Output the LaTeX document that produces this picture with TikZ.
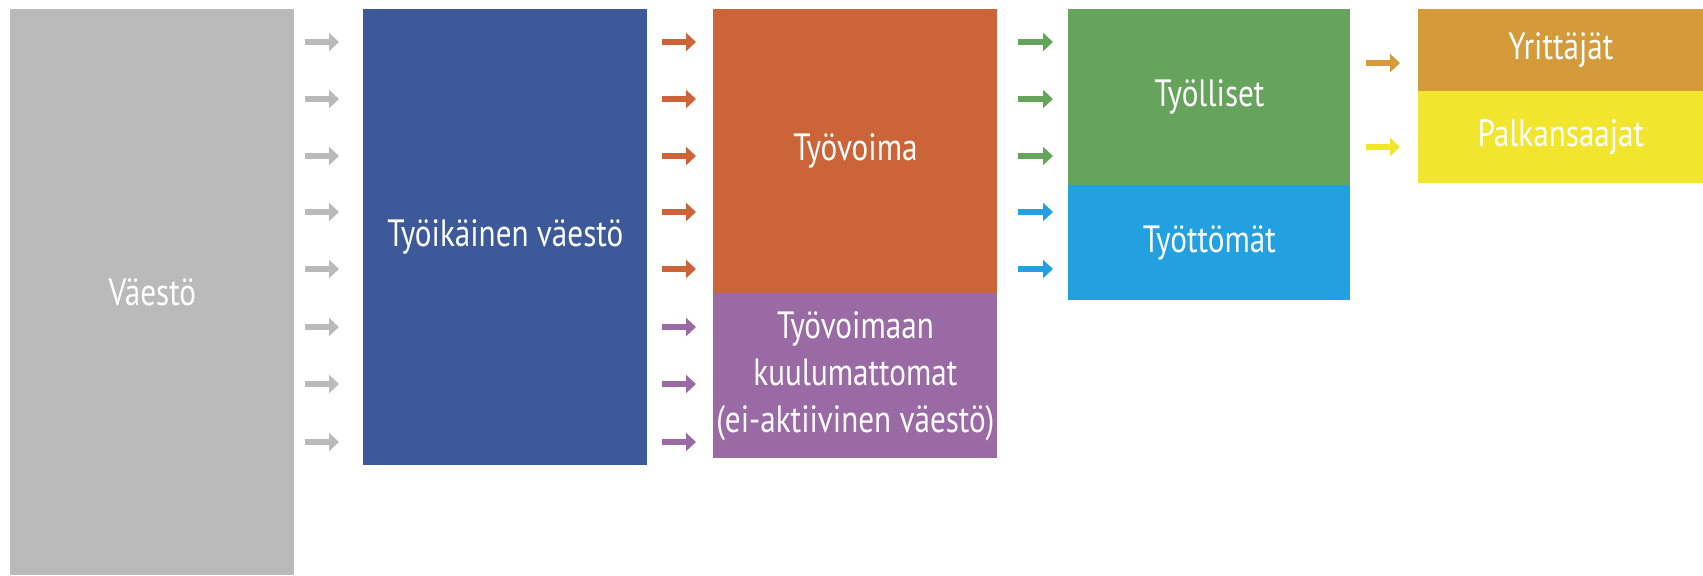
\documentclass[tikz,border=0pt]{standalone}
\usepackage{fontspec}
\setmainfont{PT Sans}[FakeStretch=0.82]
\usetikzlibrary{arrows.meta}
\definecolor{vaesto}{RGB}{187,186,186}
\definecolor{tyoikainen}{RGB}{60,89,153}
\definecolor{tyovoima}{RGB}{204,100,58}
\definecolor{ulkopuoliset}{RGB}{154,106,164}
\definecolor{tyolliset}{RGB}{102,163,92}
\definecolor{tyottomat}{RGB}{34,160,224}
\definecolor{yrittajat}{RGB}{213,154,58}
\definecolor{palkansaajat}{RGB}{242,229,46}
\tikzstyle{box} = [rectangle, inner sep=0pt, anchor=north west, text=white,
    align=center, font=\fontsize{19}{23.5}\selectfont]
\tikzstyle{flow} = [line width=3pt, -{Triangle[length=5pt,width=9pt]}]

\begin{document}
\begin{tikzpicture}[x=0.5pt, y=-0.5pt]
    \useasboundingbox (0,0) rectangle (1703,575);

    \node[box, fill=vaesto, minimum width=142pt, minimum height=283pt]
        (vaesto) at (10,9) {Väestö};
    \node[box, fill=tyoikainen, minimum width=142pt, minimum height=228pt]
        (tyoik) at (363,9) {Työikäinen väestö};
    \node[box, fill=tyovoima, minimum width=142pt, minimum height=142pt]
        (tyovoima) at (713,9) {Työvoima};
    \node[box, fill=ulkopuoliset, minimum width=142pt, minimum height=82.5pt]
        (ulkop) at (713,293) {Työvoimaan\\kuulumattomat\\(ei-aktiivinen väestö)};
    \node[box, fill=tyolliset, minimum width=141pt, minimum height=88pt]
        (tyolliset) at (1068,9) {Työlliset};
    \node[box, fill=tyottomat, minimum width=141pt, minimum height=57.5pt]
        (tyottomat) at (1068,185) {Työttömät};
    \node[box, fill=yrittajat, minimum width=142.5pt, minimum height=41pt]
        (yrittajat) at (1418,9) {Yrittäjät};
    \node[box, fill=palkansaajat, minimum width=142.5pt, minimum height=46pt]
        (palkan) at (1418,91) {Palkansaajat};

    \foreach \y in {42,99,156,212,269,327,384,442}
        \draw[flow, vaesto, shorten <=5pt, shorten >=12pt]
            (vaesto.east |- 0,\y) -- (tyoik.west |- 0,\y);

    \foreach \y in {42,99,156,212,269}
        \draw[flow, tyovoima, shorten <=7pt, shorten >=8.5pt]
            (tyoik.east |- 0,\y) -- (tyovoima.west |- 0,\y);
    \foreach \y in {327,384,442}
        \draw[flow, ulkopuoliset, shorten <=7pt, shorten >=8.5pt]
            (tyoik.east |- 0,\y) -- (ulkop.west |- 0,\y);

    \foreach \y in {42,99,156}
        \draw[flow, tyolliset, shorten <=10pt, shorten >=7.5pt]
            (tyovoima.east |- 0,\y) -- (tyolliset.west |- 0,\y);
    \foreach \y in {212,269}
        \draw[flow, tyottomat, shorten <=10pt, shorten >=7.5pt]
            (tyovoima.east |- 0,\y) -- (tyottomat.west |- 0,\y);

    \draw[flow, yrittajat, shorten <=7.5pt, shorten >=9pt]
        (tyolliset.east |- 0,63) -- (yrittajat.west |- 0,63);
    \draw[flow, palkansaajat, shorten <=7.5pt, shorten >=9pt]
        (tyolliset.east |- 0,147) -- (palkan.west |- 0,147);
\end{tikzpicture}
\end{document}
